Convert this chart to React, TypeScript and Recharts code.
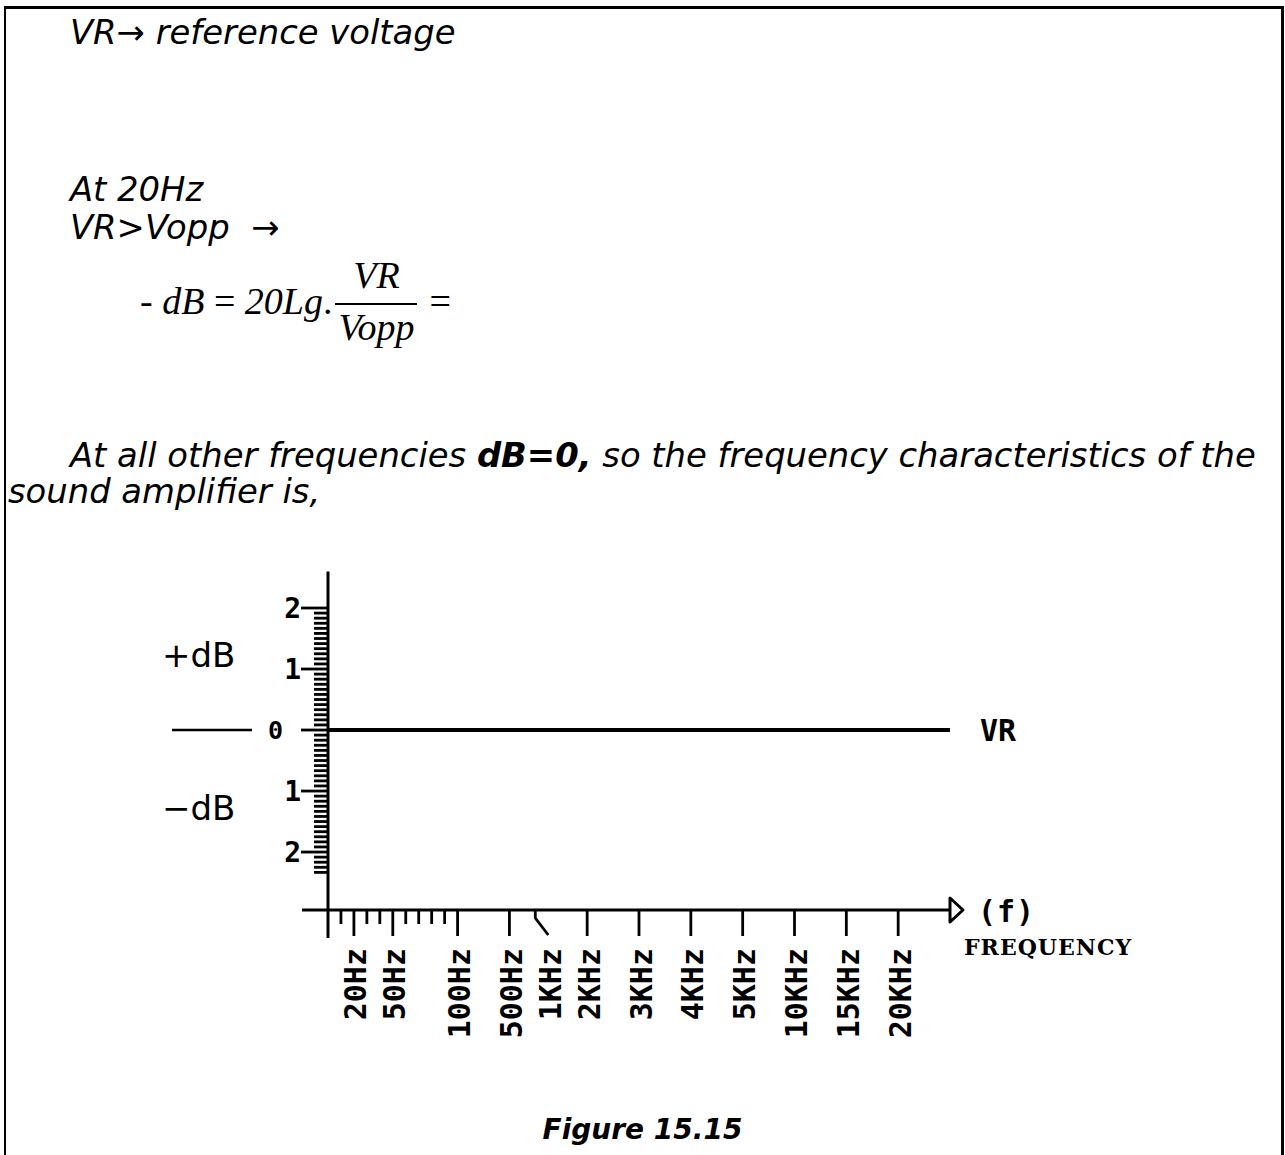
import React from 'react'
import { LineChart, Line, XAxis, YAxis, ReferenceLine, LabelList } from 'recharts'

// frequency axis is hand drawn: one slot = one minor division of the scale
const freqLabels = ['20Hz', '50Hz', '100Hz', '500Hz', '1KHz', '2KHz', '3KHz', '4KHz', '5KHz', '10KHz', '15KHz', '20KHz']
const freqSlots = [2, 5, 10, 14, 17, 20, 24, 28, 32, 36, 40, 44]
const minorSlots = [1, 3, 4, 6, 7, 8, 9]
const gainDb = [0, 0, 0, 0, 0, 0, 0, 0, 0, 0, 0, 0]
const axisStartSlot = 0
const axisEndSlot = 48
const bentTickLabel = '1KHz'
const seriesName = 'VR'

const dbTicks = [2, 1, 0, -1, -2]
const dbTickLabels = ['2', '1', '0', '1', '2']
const dbMinorPerUnit = 12
const dbMinorRange = [-28, 24]
const dbDomain: [number, number] = [-2.95, 2.6]
const dbAxisBottom = -3.41

const INK = '#000'
const MONO = '"DejaVu Sans Mono", "Liberation Mono", monospace'
const SANS = '"DejaVu Sans", Verdana, sans-serif'
const SERIF = '"Liberation Serif", "Times New Roman", serif'

const vrData = [
  { slot: axisStartSlot, db: 0 },
  ...freqSlots.map((slot, i) => ({ slot, db: gainDb[i] })),
  { slot: axisEndSlot, db: 0, tag: seriesName },
]

const dbMinorTicks = Array.from(
  { length: dbMinorRange[1] - dbMinorRange[0] + 1 },
  (_, i) => (dbMinorRange[0] + i) / dbMinorPerUnit,
)
const freqTicks = [...minorSlots, ...freqSlots].sort((a, b) => a - b)

function DbTick(props: any) {
  const { x, y, payload } = props
  const k = dbTicks.findIndex((t) => Math.abs(t - payload.value) < 1e-6)
  if (k < 0) {
    return <line x1={x - 14} x2={x} y1={y} y2={y} stroke={INK} strokeWidth={2.8} />
  }
  const isZero = dbTicks[k] === 0
  return (
    <g>
      <line x1={x - 27} x2={x} y1={y} y2={y} stroke={INK} strokeWidth={2.8} />
      {isZero && <line x1={x - 156} x2={x - 76} y1={y} y2={y} stroke={INK} strokeWidth={2.6} />}
      <text
        x={isZero ? x - 45 : x - 27}
        y={y}
        textAnchor="end"
        dominantBaseline="central"
        fontFamily={MONO}
        fontWeight="bold"
        fontSize={isZero ? 25 : 28}
        fill={INK}
      >
        {dbTickLabels[k]}
      </text>
    </g>
  )
}

function FreqTick(props: any) {
  const { x, y, payload } = props
  const k = freqSlots.indexOf(payload.value)
  if (k < 0) {
    return <line x1={x} x2={x} y1={y} y2={y + 14} stroke={INK} strokeWidth={2.8} />
  }
  const label = freqLabels[k]
  const d =
    label === bentTickLabel
      ? `M${x - 13},${y} L${x - 13},${y + 8} L${x},${y + 25}`
      : `M${x},${y} L${x},${y + 26}`
  return (
    <g>
      <path d={d} fill="none" stroke={INK} strokeWidth={2.8} />
      <text
        transform={`translate(${x + 2},${y + 38}) rotate(-90)`}
        textAnchor="end"
        dominantBaseline="central"
        fontFamily={MONO}
        fontWeight="bold"
        fontSize={30}
        fill={INK}
      >
        {label}
      </text>
    </g>
  )
}

function FreqAxisLine(props: any) {
  const { x1, y1, x2, y2 } = props
  return (
    <g>
      <line x1={x1} y1={y1} x2={x2} y2={y2} stroke={INK} strokeWidth={3} />
      <polygon
        points={`${x2},${y2 - 12} ${x2 + 13},${y2} ${x2},${y2 + 12}`}
        fill="#fff"
        stroke={INK}
        strokeWidth={3}
        strokeLinejoin="round"
      />
    </g>
  )
}

function FreqCaption({ viewBox }: any) {
  const end = viewBox.x + viewBox.width
  const y = viewBox.y
  return (
    <g>
      <text x={end + 28} y={y + 1} dominantBaseline="central" fontFamily={MONO} fontWeight="bold" fontSize={30} letterSpacing={1} fill={INK}>
        (f)
      </text>
      <text x={end + 14} y={y + 45} fontFamily='"DejaVu Serif", serif' fontWeight="bold" fontSize={22} letterSpacing={1} fill={INK}>
        FREQUENCY
      </text>
    </g>
  )
}

function DbCaption({ viewBox }: any) {
  const axisX = viewBox.x + viewBox.width
  const zeroY = viewBox.y + (viewBox.height * dbDomain[1]) / (dbDomain[1] - dbDomain[0])
  return (
    <g fontFamily={SANS} fontSize={34} fill={INK}>
      <text x={axisX - 166} y={zeroY - 63}>+dB</text>
      <text x={axisX - 166} y={zeroY + 90}>−dB</text>
    </g>
  )
}

function FrequencyChart() {
  return (
    <LineChart width={1285} height={1155} data={vrData} margin={{ top: 571.4, right: 335, bottom: 215, left: 298 }}>
      <XAxis
        dataKey="slot"
        type="number"
        domain={[axisStartSlot, axisEndSlot]}
        ticks={freqTicks}
        interval={0}
        axisLine={false}
        tickLine={false}
        tickSize={0}
        tickMargin={0}
        height={30}
        tick={FreqTick}
        label={{ content: FreqCaption }}
      />
      <YAxis
        type="number"
        domain={dbDomain}
        ticks={dbMinorTicks}
        interval={0}
        axisLine={false}
        tickLine={false}
        tickSize={0}
        tickMargin={0}
        width={30}
        tick={DbTick}
        label={{ content: DbCaption }}
      />
      <ReferenceLine
        segment={[{ x: axisStartSlot, y: dbDomain[1] }, { x: axisStartSlot, y: dbAxisBottom }]}
        ifOverflow="visible"
        stroke={INK}
        strokeWidth={3}
      />
      <ReferenceLine
        segment={[{ x: axisStartSlot - 2, y: dbDomain[0] }, { x: axisEndSlot, y: dbDomain[0] }]}
        ifOverflow="visible"
        shape={FreqAxisLine}
      />
      <Line
        dataKey="db"
        stroke={INK}
        strokeWidth={3.8}
        dot={false}
        isAnimationActive={false}
      >
        <LabelList
          dataKey="tag"
          position="right"
          offset={30}
          fill={INK}
          fontFamily={MONO}
          fontWeight="bold"
          fontSize={30}
        />
      </Line>
    </LineChart>
  )
}

function Para({ left, top, size = 33.8, children }: any) {
  return (
    <div
      style={{
        position: 'absolute',
        left,
        top,
        fontFamily: SANS,
        fontStyle: 'italic',
        fontSize: size,
        lineHeight: '36px',
        whiteSpace: 'nowrap',
      }}
    >
      {children}
    </div>
  )
}

function Formula() {
  const math: React.CSSProperties = { fontFamily: SERIF, fontSize: 38, fontStyle: 'italic' }
  return (
    <div style={{ position: 'absolute', left: 140, top: 253, display: 'flex', alignItems: 'center', whiteSpace: 'pre', ...math }}>
      <span>- dB </span>
      <span style={{ fontStyle: 'normal' }}>= </span>
      <span>20Lg</span>
      <span style={{ fontStyle: 'normal' }}>.</span>
      <span style={{ display: 'inline-flex', flexDirection: 'column', alignItems: 'center', margin: '0 12px 0 3px' }}>
        <span style={{ lineHeight: '44px', padding: '0 4px 6px' }}>VR</span>
        <span style={{ alignSelf: 'stretch', borderTop: '2px solid #000' }} />
        <span style={{ lineHeight: '44px', padding: '0 3px' }}>Vopp</span>
      </span>
      <span style={{ fontStyle: 'normal' }}>=</span>
    </div>
  )
}

export default function App() {
  return (
    <div
      style={{
        position: 'absolute',
        left: 0,
        top: 0,
        width: 1285,
        height: 1155,
        background: '#fff',
        overflow: 'hidden',
        color: INK,
      }}
    >
      <div
        style={{
          position: 'absolute',
          left: 4,
          top: 6,
          width: 1280,
          height: 1200,
          boxSizing: 'border-box',
          borderLeft: '2px solid #000',
          borderTop: '3px solid #000',
          borderRight: '3px solid #000',
        }}
      />
      <Para left={70} top={15}>VR→ reference voltage</Para>
      <Para left={70} top={172}>At 20Hz</Para>
      <Para left={70} top={210}>VR&gt;Vopp&nbsp; →</Para>
      <Formula />
      <Para left={70} top={438}>
        At all other frequencies <b>dB=0,</b> so the frequency characteristics of the
      </Para>
      <Para left={8} top={474}>sound amplifier is,</Para>
      <div style={{ position: 'absolute', left: 0, top: 0 }}>
        <FrequencyChart />
      </div>
      <div
        style={{
          position: 'absolute',
          left: 0,
          width: 1285,
          top: 1112,
          textAlign: 'center',
          fontFamily: SANS,
          fontStyle: 'italic',
          fontWeight: 'bold',
          fontSize: 28,
          lineHeight: '36px',
        }}
      >
        Figure 15.15
      </div>
    </div>
  )
}
